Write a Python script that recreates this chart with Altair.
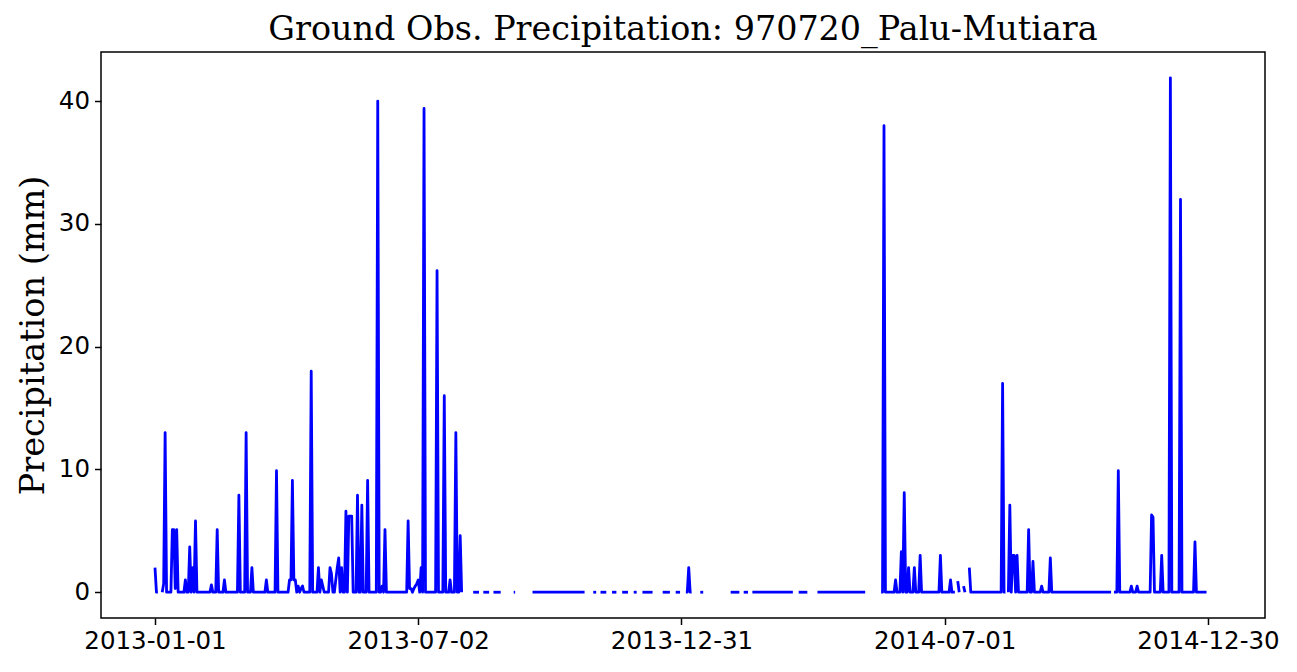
import altair as alt
import pandas as pd
import numpy as np

# ---- data (day offsets from 2013-01-01) ----
START = "2013-01-01"
N_DAYS = 728
TITLE = "Ground Obs. Precipitation: 970720_Palu-Mutiara"

# inclusive ranges of days that have an observation (value 0 unless listed below)
obs_start = [0, 5, 220, 227, 234, 248, 261, 303, 308, 316, 323, 331, 337, 351, 360, 367, 377,
             398, 407, 413, 445, 458, 502, 555, 559, 563, 590, 663]
obs_end = [2, 212, 224, 231, 239, 249, 297, 305, 312, 319, 327, 333, 344, 356, 363, 371, 379,
           404, 410, 441, 451, 491, 553, 556, 560, 588, 661, 727]

# rainy days and amounts (mm)
rain_day = [0, 6, 7, 12, 13, 14, 15, 21, 24, 26, 28, 39, 43, 48, 58, 63, 67, 77, 84,
            93, 94, 95, 96, 97, 99, 101, 102, 108, 113, 115, 116, 121, 122, 125, 126, 127,
            129, 132, 134, 135, 136, 140, 143, 147, 154, 157, 159, 175, 176, 177, 179, 180,
            181, 182, 184, 186, 195, 200, 204, 208, 211, 369, 504, 512, 516, 518, 521, 525,
            529, 543, 550, 555, 559, 563, 586, 591, 593, 594, 596, 604, 607, 613, 619, 666,
            675, 679, 689, 690, 696, 702, 709, 719]
rain_mm = [2.0, 0.7, 13.0, 5.1, 5.1, 0.3, 5.1, 1.0, 3.7, 2.0, 5.8, 0.6, 5.1, 1.0, 7.9, 13.0, 2.0, 1.0, 9.9,
           1.0, 1.0, 9.1, 1.0, 1.0, 0.5, 0.3, 0.5, 18.0, 2.0, 1.0, 0.5, 2.0, 1.5, 1.0, 2.0, 2.8,
           2.0, 6.6, 6.2, 6.2, 6.2, 7.9, 7.1, 9.1, 40.0, 0.5, 5.1, 5.8, 0.3, 0.3, 0.3, 0.5,
           0.7, 1.0, 2.0, 39.4, 26.2, 16.0, 1.0, 13.0, 4.6, 2.0, 38.0, 1.0, 3.3, 8.1, 2.0, 2.0,
           3.0, 3.0, 1.0, 0.9, 0.5, 2.0, 17.0, 7.1, 3.0, 3.0, 3.0, 5.1, 2.5, 0.5, 2.8, 9.9,
           0.5, 0.5, 6.3, 6.1, 3.0, 41.9, 32.0, 4.1]

tick_dates = ["2013-01-01", "2013-07-02", "2013-12-31", "2014-07-01", "2014-12-30"]
y_ticks = [0, 10, 20, 30, 40]

# ---- build the daily table ----
vals = np.full(N_DAYS, np.nan)
for a, b in zip(obs_start, obs_end):
    vals[a:b + 1] = 0.0
for d, v in zip(rain_day, rain_mm):
    vals[d] = v
dates = pd.date_range(START, periods=N_DAYS, freq="D")
df = pd.DataFrame({"day": np.arange(N_DAYS), "date": dates.strftime("%Y-%m-%d"), "mm": vals})
df = df.dropna().reset_index(drop=True)
df["seg"] = (df["day"].diff().fillna(1) > 1).cumsum()


def dt(s, hours=0):
    y, m, d = (int(p) for p in s.split("-"))
    return alt.DateTime(year=y, month=m, date=d, hours=hours, utc=True)


W, H = 1164, 566
x_scale = alt.Scale(type="utc", domain=[dt("2012-11-24", 16), dt("2015-02-07", 10)], nice=False)

line = alt.Chart(df).mark_line(color="#0000ff", strokeWidth=2.8, strokeJoin="round", strokeCap="butt").encode(
    x=alt.X("date:T", scale=x_scale,
            axis=alt.Axis(values=[dt(t) for t in tick_dates],
                          labelExpr="utcFormat(datum.value, '%Y-%m-%d')",
                          title=None, labelFontSize=24.5, labelFont="DejaVu Sans", labelColor="black",
                          tickColor="black", tickSize=6.5, tickWidth=1.5, labelPadding=5,
                          domain=False, grid=False, labelFlush=False, labelOverlap=False)),
    y=alt.Y("mm:Q", scale=alt.Scale(domain=[-2.1, 44.0], nice=False, zero=False),
            axis=alt.Axis(values=y_ticks, title="Precipitation (mm)", titleFont="DejaVu Serif",
                          titleFontSize=33.5, titleFontWeight="normal", titleColor="black",
                          titleAngle=270, titleX=-68, titleY=H / 2, titleAlign="center",
                          titleBaseline="middle",
                          labelFontSize=24.5, labelFont="DejaVu Sans", labelColor="black",
                          tickColor="black", tickSize=6.5, tickWidth=1.5, labelPadding=5,
                          domain=False, grid=False)),
    detail="seg:N",
)

title = alt.Chart(pd.DataFrame({"t": [TITLE]})).mark_text(
    font="DejaVu Serif", fontSize=33.4, color="black", align="center", baseline="alphabetic"
).encode(text="t:N", x=alt.value(W / 2), y=alt.value(-12))

chart = alt.layer(line, title).properties(
    width=W,
    height=H,
    autosize=alt.AutoSizeParams(type="none"),
    padding={"left": 93, "top": 44, "right": 24, "bottom": 46},
).configure(background="white").configure_view(stroke="black", strokeWidth=1.5)

chart.save("out.html", embed_options={"renderer": "svg", "actions": False})
